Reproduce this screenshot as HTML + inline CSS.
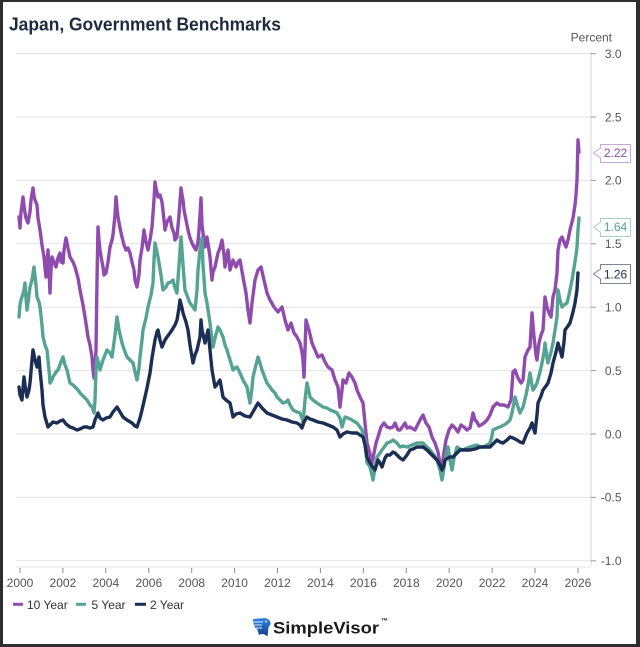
<!DOCTYPE html>
<html>
<head>
<meta charset="utf-8">
<style>
  html,body{margin:0;padding:0;background:#fff;}
  body{width:640px;height:647px;overflow:hidden;}
  svg{display:block;}
  text{font-family:"Liberation Sans",Arial,sans-serif;}
</style>
</head>
<body>
<svg width="640" height="647" viewBox="0 0 640 647" xmlns="http://www.w3.org/2000/svg">
  <rect x="0" y="0" width="640" height="647" fill="#ffffff"/>

  <!-- Title -->
  <text x="9" y="30.5" font-size="18.5" font-weight="bold" fill="#1c2b3f" textLength="272" lengthAdjust="spacingAndGlyphs">Japan, Government Benchmarks</text>

  <!-- Percent label -->
  <text x="612" y="41.5" font-size="12" fill="#555" text-anchor="end">Percent</text>

  <!-- gridlines -->
  <g stroke="#e3e3e3" stroke-width="1">
    <line x1="16" y1="53.6" x2="591" y2="53.6"/>
    <line x1="16" y1="117" x2="591" y2="117"/>
    <line x1="16" y1="180.4" x2="591" y2="180.4"/>
    <line x1="16" y1="243.8" x2="591" y2="243.8"/>
    <line x1="16" y1="307.2" x2="591" y2="307.2"/>
    <line x1="16" y1="370.6" x2="591" y2="370.6"/>
    <line x1="16" y1="434" x2="591" y2="434"/>
    <line x1="16" y1="497.4" x2="591" y2="497.4"/>
    <line x1="16" y1="560.8" x2="591" y2="560.8"/>
  </g>
  <!-- right axis line -->
  <line x1="591" y1="52" x2="591" y2="566" stroke="#d6d6d6" stroke-width="1"/>
  <!-- y ticks -->
  <g stroke="#999" stroke-width="1">
    <line x1="591" y1="53.6" x2="596" y2="53.6"/>
    <line x1="591" y1="117" x2="596" y2="117"/>
    <line x1="591" y1="180.4" x2="596" y2="180.4"/>
    <line x1="591" y1="243.8" x2="596" y2="243.8"/>
    <line x1="591" y1="307.2" x2="596" y2="307.2"/>
    <line x1="591" y1="370.6" x2="596" y2="370.6"/>
    <line x1="591" y1="434" x2="596" y2="434"/>
    <line x1="591" y1="497.4" x2="596" y2="497.4"/>
    <line x1="591" y1="560.8" x2="596" y2="560.8"/>
  </g>
  <!-- y labels -->
  <g font-size="12" fill="#555" text-anchor="end">
    <text x="621.5" y="58">3.0</text>
    <text x="621.5" y="121.3">2.5</text>
    <text x="621.5" y="184.7">2.0</text>
    <text x="621.5" y="248.1">1.5</text>
    <text x="621.5" y="311.5">1.0</text>
    <text x="621.5" y="374.9">0.5</text>
    <text x="621.5" y="438.3">0.0</text>
    <text x="621.5" y="501.7">-0.5</text>
    <text x="621.5" y="565.1">-1.0</text>
  </g>

  <!-- x axis line -->
  <line x1="16" y1="567" x2="591" y2="567" stroke="#e6e6e6" stroke-width="1"/>
  <!-- x ticks -->
  <g stroke="#888" stroke-width="1">
    <line x1="20" y1="568" x2="20" y2="573"/>
    <line x1="62.9" y1="568" x2="62.9" y2="573"/>
    <line x1="105.8" y1="568" x2="105.8" y2="573"/>
    <line x1="148.8" y1="568" x2="148.8" y2="573"/>
    <line x1="191.7" y1="568" x2="191.7" y2="573"/>
    <line x1="234.6" y1="568" x2="234.6" y2="573"/>
    <line x1="277.5" y1="568" x2="277.5" y2="573"/>
    <line x1="320.4" y1="568" x2="320.4" y2="573"/>
    <line x1="363.4" y1="568" x2="363.4" y2="573"/>
    <line x1="406.3" y1="568" x2="406.3" y2="573"/>
    <line x1="449.2" y1="568" x2="449.2" y2="573"/>
    <line x1="492.1" y1="568" x2="492.1" y2="573"/>
    <line x1="535" y1="568" x2="535" y2="573"/>
    <line x1="578" y1="568" x2="578" y2="573"/>
  </g>
  <g font-size="12" fill="#555" text-anchor="middle">
    <text x="20" y="587">2000</text>
    <text x="62.9" y="587">2002</text>
    <text x="105.8" y="587">2004</text>
    <text x="148.8" y="587">2006</text>
    <text x="191.7" y="587">2008</text>
    <text x="234.6" y="587">2010</text>
    <text x="277.5" y="587">2012</text>
    <text x="320.4" y="587">2014</text>
    <text x="363.4" y="587">2016</text>
    <text x="406.3" y="587">2018</text>
    <text x="449.2" y="587">2020</text>
    <text x="492.1" y="587">2022</text>
    <text x="535" y="587">2024</text>
    <text x="578" y="587">2026</text>
  </g>

  <!-- 10 Year -->
  <polyline fill="none" stroke="#8f4bad" stroke-width="3.4" stroke-linejoin="round" stroke-linecap="round" points="
19,217 20,228 21,212 22,205 23,197 24,206 25,213 26,218 28,223 30,212 31,200 33,188 34,196 35,200 37,205 38,218 40,230 42,245 44,257 45,268 46,277 47,262 48,250 49,270 50,293 51,270 52,257 54,262 56,267 58,258 60,253 61,262 63,263 64,250 66,238 68,248 70,257 73,262 75,267 78,278 80,290 82,300 83,305 85,317 87,330 88,337 90,345 92,357 93,370 94,378 95,368 96,350 97,280 98,227 99,240 100,250 102,262 103,267 104,275 106,273 108,262 110,247 112,240 113,235 115,215 116,197 117,208 118,217 120,228 122,237 124,245 126,250 128,248 130,253 132,262 134,270 135,280 137,287 139,275 140,260 142,248 144,230 146,242 148,250 150,240 152,227 154,200 155,182 156,188 157,192 158,197 160,195 162,202 164,220 165,230 167,222 170,217 172,228 174,233 175,240 177,237 179,215 181,188 182,195 183,200 184,210 186,220 188,230 190,238 192,243 194,247 196,250 198,242 199,230 200,215 201,198 202,225 203,233 205,247 207,237 209,250 210,257 212,280 213,272 215,267 218,253 220,248 222,240 224,255 225,267 227,255 228,250 230,270 233,260 236,267 238,262 240,260 243,277 246,293 248,310 250,323 252,303 255,280 258,270 261,267 264,280 267,293 270,300 274,307 278,312 282,307 285,320 288,330 291,323 294,333 297,337 300,343 302,352 303,360 304,377 305,350 306,320 308,327 309,330 312,343 315,350 318,357 322,355 325,362 328,367 332,370 335,380 338,387 340,407 342,390 343,380 346,383 349,373 352,377 355,383 357,390 360,397 363,403 365,423 367,443 369,450 371,458 372,463 374,453 376,443 378,437 381,427 384,423 387,427 390,428 393,427 395,423 398,430 400,430 403,426 405,423 407,428 410,427 413,429 415,430 418,424 420,420 423,415 426,423 429,427 432,437 435,443 438,452 440,463 442,468 444,452 446,440 449,430 452,425 455,428 458,432 461,425 464,427 467,430 470,428 473,413 475,420 477,422 479,426 481,425 484,423 487,420 490,415 493,407 497,403 500,405 504,405 508,407 511,400 513,372 515,370 518,378 521,383 523,380 525,357 528,350 530,347 532,313 534,337 536,355 537,360 539,343 541,335 543,330 545,297 547,307 549,313 551,317 553,297 555,290 557,273 558,250 560,240 562,237 564,242 566,247 568,240 570,230 572,222 573,218 575,205 576,195 577,180 578,140 579,152"/>

  <!-- 5 Year -->
  <polyline fill="none" stroke="#55a392" stroke-width="3.4" stroke-linejoin="round" stroke-linecap="round" points="
19,317 20,305 21,300 22,297 24,290 25,283 26,298 27,310 29,295 30,287 32,280 34,267 35,276 36,285 37,297 39,302 40,307 42,325 43,337 45,345 47,350 49,370 50,383 52,380 53,377 56,372 58,370 61,362 63,357 65,365 67,370 70,383 73,385 75,387 78,390 80,393 84,397 87,400 90,405 92,407 94,413 95,400 96,370 97,357 99,365 100,370 103,360 107,350 110,353 112,357 115,335 117,317 119,330 122,343 125,352 127,357 130,360 133,363 135,372 137,380 139,368 140,357 142,340 143,330 146,318 148,307 151,295 153,283 154,260 155,243 157,252 158,257 161,275 163,290 166,287 168,283 171,282 173,280 175,288 177,293 179,265 181,237 183,265 185,290 188,298 190,303 193,307 195,310 197,290 198,270 200,250 202,238 203,265 205,293 207,303 210,323 212,340 213,347 215,338 218,327 220,330 223,337 225,345 227,350 230,360 233,370 235,368 237,367 240,373 243,380 247,387 250,403 252,388 253,377 256,365 258,357 260,363 262,370 265,378 267,383 270,387 272,390 275,393 277,397 280,400 283,403 286,402 288,400 290,405 293,410 297,412 300,413 302,418 303,423 305,400 307,383 309,392 310,397 313,400 317,403 320,405 323,407 327,408 330,410 333,411 337,413 340,418 342,427 344,420 345,417 348,418 352,420 355,422 357,423 360,427 362,430 364,437 365,443 367,463 369,465 370,467 372,475 373,480 375,468 377,457 380,453 382,450 385,446 387,443 390,442 393,440 397,443 400,447 403,446 407,447 412,445 417,443 423,443 427,447 430,450 434,455 437,460 440,470 442,480 444,468 445,460 447,450 448,447 450,460 452,470 454,458 457,447 460,449 463,450 467,448 470,447 473,446 477,445 480,447 483,447 487,445 490,443 492,436 493,430 497,428 500,427 504,425 507,423 510,420 512,413 514,403 515,397 518,407 520,413 523,407 526,395 528,385 530,373 532,385 533,390 535,387 537,383 540,372 542,363 544,352 545,343 547,358 548,363 551,352 553,343 555,330 557,317 558,290 560,300 562,307 564,305 567,303 569,295 572,280 574,268 576,255 577,247 578,230 579,218"/>

  <!-- 2 Year -->
  <polyline fill="none" stroke="#1b2f55" stroke-width="3.4" stroke-linejoin="round" stroke-linecap="round" points="
19,387 20,395 22,400 24,377 25,385 27,397 29,390 30,383 32,360 33,350 35,360 37,367 39,357 40,370 42,390 43,405 45,417 48,427 50,425 53,422 57,423 60,421 63,420 66,424 70,427 73,428 77,430 80,429 84,427 87,427 90,428 93,427 95,420 98,413 100,418 103,420 106,418 110,417 113,412 117,407 120,412 123,417 127,420 132,423 135,426 137,427 140,418 142,410 145,397 147,388 150,373 152,358 155,340 157,332 158,330 160,340 162,347 165,340 167,337 170,333 172,330 175,325 177,320 179,308 180,300 182,308 183,313 186,322 188,330 190,345 193,363 195,355 197,350 200,337 201,320 202,330 205,343 208,330 210,350 212,370 215,387 218,383 220,380 223,397 226,400 230,403 233,417 236,414 240,413 245,416 250,417 254,410 258,403 262,408 267,413 272,415 277,417 282,419 287,420 292,422 297,423 300,425 302,428 304,422 307,417 310,419 313,420 318,422 323,423 328,425 333,427 337,430 340,437 343,434 347,432 352,433 357,433 360,435 363,437 365,445 367,457 370,463 372,466 375,470 378,460 380,463 382,467 385,458 387,455 390,455 393,452 395,453 398,456 400,458 403,460 407,455 410,450 413,449 417,447 423,447 427,450 430,453 434,457 437,460 440,465 442,470 444,465 445,460 448,458 450,457 453,457 456,454 460,450 465,450 470,450 475,449 480,447 485,447 490,447 494,443 497,440 500,442 503,443 507,440 510,437 513,438 517,440 520,442 523,443 525,438 527,433 530,428 532,423 534,430 535,433 537,415 538,403 541,396 543,390 546,386 548,383 551,373 553,363 556,352 558,343 560,350 562,357 564,342 565,330 568,326 570,323 573,312 575,303 577,290 578,273"/>

  <!-- value callouts -->
  <path d="M593.5,153 L600.5,148 L600.5,144.5 L630.5,144.5 L630.5,162.5 L600.5,162.5 L600.5,158 Z" fill="#fff" stroke="#c9a7d8" stroke-width="1"/>
  <text x="615.5" y="157" font-size="12" fill="#8f4bad" text-anchor="middle">2.22</text>

  <path d="M593.5,227.3 L600.5,222.3 L600.5,218.5 L630.5,218.5 L630.5,236.5 L600.5,236.5 L600.5,232.3 Z" fill="#fff" stroke="#a8d1c6" stroke-width="1"/>
  <text x="615.5" y="231" font-size="12" fill="#55a392" text-anchor="middle">1.64</text>

  <path d="M593.5,274 L600.5,269 L600.5,264.5 L630.5,264.5 L630.5,283.5 L600.5,283.5 L600.5,279 Z" fill="#fff" stroke="#7d8596" stroke-width="1"/>
  <text x="615.5" y="278.3" font-size="12" fill="#1b2f55" text-anchor="middle">1.26</text>

  <!-- legend -->
  <line x1="13" y1="604.3" x2="23" y2="604.3" stroke="#8f4bad" stroke-width="3"/>
  <text x="27" y="609" font-size="12" fill="#333">10 Year</text>
  <line x1="76" y1="604.3" x2="86" y2="604.3" stroke="#55a392" stroke-width="3"/>
  <text x="91.5" y="609" font-size="12" fill="#333">5 Year</text>
  <line x1="135" y1="604.3" x2="146" y2="604.3" stroke="#1b2f55" stroke-width="3"/>
  <text x="150" y="609" font-size="12" fill="#333">2 Year</text>

  <!-- logo -->
  <defs>
    <linearGradient id="lg" x1="0" y1="0" x2="0" y2="1">
      <stop offset="0" stop-color="#2f86e8"/>
      <stop offset="1" stop-color="#0f3f86"/>
    </linearGradient>
  </defs>
  <path d="M253,619 L265,618 Q271,619.5 270.5,624 L268.5,627.5 L267.5,636.5 Q263,632.5 259,635 L257.5,630 Q254,627 253.5,623 Z" fill="url(#lg)"/>
  <g stroke="#ffffff" stroke-width="0.9">
    <line x1="254" y1="622" x2="263" y2="622"/>
    <line x1="254.5" y1="625" x2="262" y2="625"/>
    <line x1="256" y1="628" x2="262" y2="628"/>
  </g>
  <circle cx="266" cy="621.5" r="0.9" fill="#ffffff"/>
  <text x="273" y="633.3" font-size="16.5" font-weight="bold" fill="#1a1a1a" textLength="106" lengthAdjust="spacingAndGlyphs">SimpleVisor</text>
  <text x="381" y="623" font-size="7" font-weight="bold" fill="#1a1a1a">™</text>

  <!-- frame border -->
  <rect x="0" y="0" width="640" height="2" fill="#2e2e2e"/>
  <rect x="0" y="0" width="3" height="647" fill="#2e2e2e"/>
  <rect x="636" y="0" width="4" height="647" fill="#2e2e2e"/>
  <rect x="0" y="644" width="640" height="3" fill="#2e2e2e"/>
</svg>
</body>
</html>
